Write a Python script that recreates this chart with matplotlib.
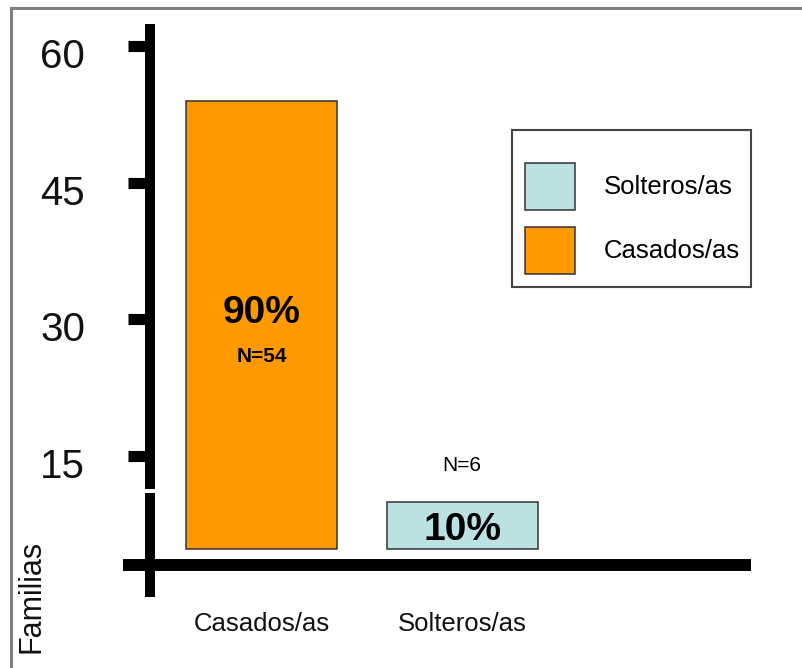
import matplotlib
matplotlib.use("Agg")
import matplotlib.pyplot as plt
import matplotlib.transforms as mtransforms
from matplotlib.patches import Rectangle
from matplotlib.lines import Line2D

# Data: number of families by marital status
categories = ["Casados/as", "Solteros/as"]
families = [54, 6]
colors = ["#FF9900", "#BBE1E3"]
y_ticks = [15, 30, 45, 60]

total = sum(families)
percents = [round(100 * v / total) for v in families]

W, H = 802, 668
fig = plt.figure(figsize=(W / 100, H / 100), dpi=100)


def fx(px):
    return px / W


def fy(py):
    return 1 - py / H


FONT = ["Liberation Sans", "DejaVu Sans"]

# Broken value axis: an upper panel (15-60) and a compressed lower panel near zero
ax_top = fig.add_axes([fx(123), fy(491), (751 - 123) / W, (491 - 24) / H])
ax_bot = fig.add_axes([fx(123), fy(598), (751 - 123) / W, (598 - 491) / H])

xpos = list(range(len(categories)))
bar_sets = []
for ax in (ax_top, ax_bot):
    bars = ax.bar(xpos, families, width=0.753, color=colors,
                  edgecolor="#333333", linewidth=1.1)
    bar_sets.append(bars)
    ax.set_xlim(-0.691, 2.441)
    ax.patch.set_visible(False)
    for side in ("top", "right"):
        ax.spines[side].set_visible(False)
    left = ax.spines["left"]
    left.set_position(("data", -0.556))
    left.set_linewidth(7.2)
    left.set_capstyle("butt")
    left.set_color("black")

# upper panel
ax_top.set_ylim(11.15, 62.47)
ax_top.spines["left"].set_bounds(11.37, 62.47)
ax_top.spines["bottom"].set_visible(False)
ax_top.set_xticks([])
ax_top.set_yticks(y_ticks)
ax_top.set_yticklabels([str(t) for t in y_ticks], fontsize=29, family=FONT)
ax_top.tick_params(axis="y", direction="out", length=15.8, width=8, pad=31,
                   colors="black")
# tick labels sit slightly below their tick marks
shift_down = mtransforms.ScaledTranslation(0, -5 / 72, fig.dpi_scale_trans)
for lbl in ax_top.get_yticklabels():
    lbl.set_color("#111111")
    lbl.set_transform(lbl.get_transform() + shift_down)

# lower panel
ax_bot.set_ylim(-6.26, 7.41)
ax_bot.spines["left"].set_bounds(-6.13, 7.15)
bottom = ax_bot.spines["bottom"]
bottom.set_position(("data", -2.04))
bottom.set_linewidth(8.6)
bottom.set_capstyle("butt")
bottom.set_color("black")
ax_bot.set_yticks([])
ax_bot.set_xticks(xpos)
ax_bot.set_xticklabels(categories, fontsize=18.5, family=FONT, color="#111111")
ax_bot.tick_params(axis="x", length=0, pad=34)

# value labels
ax_top.annotate(f"{percents[0]}%", xy=(0, families[0]), xytext=(0, -152.6),
                textcoords="offset points", ha="center", va="center",
                fontsize=28, fontweight="bold", family=FONT)
ax_top.annotate(f"N={families[0]}", xy=(0, families[0]), xytext=(0, -183.6),
                textcoords="offset points", ha="center", va="center",
                fontsize=15, fontweight="bold", family=FONT)
ax_bot.annotate(f"{percents[1]}%", xy=(1, families[1]), xytext=(0, -20),
                textcoords="offset points", ha="center", va="center",
                fontsize=28, fontweight="bold", family=FONT)
ax_bot.annotate(f"N={families[1]}", xy=(1, families[1]), xytext=(0, 26),
                textcoords="offset points", ha="center", va="center",
                fontsize=15, family=FONT, annotation_clip=False)

# axis title
fig.text(fx(31), fy(596), "Familias", rotation=90, ha="center", va="center",
         fontsize=22, family=FONT, color="#111111")

# legend (reverse order) with its own frame
top_bars = bar_sets[0].patches
fig.legend(handles=[top_bars[1], top_bars[0]],
           labels=[categories[1], categories[0]],
           loc="upper left", bbox_to_anchor=(fx(525), fy(163)),
           frameon=False, borderpad=0, borderaxespad=0,
           handlelength=1.95, handleheight=2.44, handletextpad=1.13,
           labelspacing=0.66, prop={"family": FONT, "size": 18.5})
fig.add_artist(Rectangle((fx(512), fy(287)), (751 - 512) / W, (287 - 130) / H,
                         transform=fig.transFigure, fill=False,
                         edgecolor="#444444", linewidth=1.5))

# outer border
fig.add_artist(Line2D([fx(11), fx(11)], [0, fy(8)], transform=fig.transFigure,
                      color="#808080", linewidth=2.2))
fig.add_artist(Line2D([fx(11), 1], [fy(8), fy(8)], transform=fig.transFigure,
                      color="#808080", linewidth=2.2))

fig.savefig("out.png", dpi=100)
